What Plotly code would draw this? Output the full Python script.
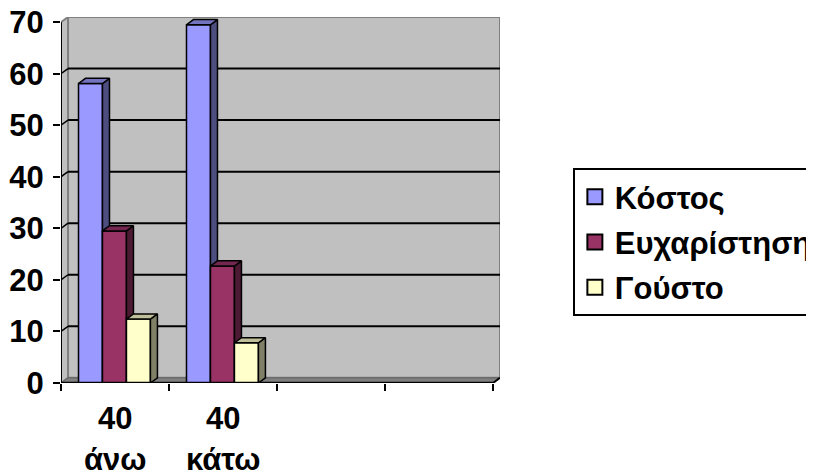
import plotly.graph_objects as go

# data
categories = ['40<br>άνω', '40<br>κάτω', '', '']
series_names = ['Κόστος', 'Ευχαρίστηση', 'Γούστο']
kostos = [58.1, 69.5]
eucharistisi = [29.5, 22.7]
gousto = [12.4, 7.8]
y_ticks = [0, 10, 20, 30, 40, 50, 60, 70]

values = [kostos, eucharistisi, gousto]
front_cols = ['#9999FF', '#993366', '#FFFFCC']
side_cols = ['#4D4D80', '#4D1A33', '#808066']
top_cols = ['#7373BF', '#732650', '#BFBF99']

FONT = 'Liberation Sans, Arial, sans-serif'
FS = 31
dx, dy = 0.065, 1.0      # depth of the 3d box in data units
bw = 0.222                # bar width
offs = [-0.227, -0.005, 0.217]
ncat = len(categories)

fig = go.Figure()

# back wall, left wall, floor and gridlines
shapes = []
shapes.append(dict(type='rect', xref='x', yref='y', x0=-0.5 + dx, x1=ncat - 0.5 + dx,
                   y0=dy, y1=y_ticks[-1] + dy, fillcolor='#C0C0C0',
                   line=dict(color='#808080', width=2), layer='below'))
shapes.append(dict(type='path', xref='x', yref='y',
                   path=f'M -0.5,0 L -0.5,{y_ticks[-1]} L {-0.5+dx},{y_ticks[-1]+dy} L {-0.5+dx},{dy} Z',
                   fillcolor='#C0C0C0', line=dict(color='#808080', width=2), layer='below'))
shapes.append(dict(type='path', xref='x', yref='y',
                   path=f'M -0.5,0 L {ncat-0.5},0 L {ncat-0.5+dx},{dy} L {-0.5+dx},{dy} Z',
                   fillcolor='#808080', line=dict(color='#606060', width=1), layer='below'))
for v in y_ticks[1:-1]:
    shapes.append(dict(type='line', xref='x', yref='y', x0=-0.5 + dx, x1=ncat - 0.5 + dx,
                       y0=v + dy, y1=v + dy, line=dict(color='black', width=2), layer='below'))
    shapes.append(dict(type='line', xref='x', yref='y', x0=-0.5, x1=-0.5 + dx,
                       y0=v, y1=v + dy, line=dict(color='black', width=1.5), layer='below'))
# front axis lines
shapes.append(dict(type='line', xref='x', yref='y', x0=-0.5, x1=-0.5, y0=0, y1=y_ticks[-1],
                   line=dict(color='black', width=2)))
shapes.append(dict(type='line', xref='x', yref='y', x0=-0.5, x1=ncat - 0.5, y0=0, y1=0,
                   line=dict(color='black', width=2.5)))
shapes.append(dict(type='line', xref='x', yref='y', x0=ncat - 0.5, x1=ncat - 0.5 + dx, y0=0, y1=dy,
                   line=dict(color='black', width=2)))

# bars drawn as 3d boxes, series by series
for i, vals in enumerate(values):
    fx, fy, sx, sy, tx, ty = [], [], [], [], [], []
    for j, v in enumerate(vals):
        l = j + offs[i] - bw / 2
        r = l + bw
        fx += [l, r, r, l, l, None]
        fy += [0, 0, v, v, 0, None]
        sx += [r, r + dx, r + dx, r, r, None]
        sy += [0, dy, v + dy, v, 0, None]
        tx += [l, r, r + dx, l + dx, l, None]
        ty += [v, v, v + dy, v + dy, v, None]
    for xs, ys, col in [(fx, fy, front_cols[i]), (sx, sy, side_cols[i]), (tx, ty, top_cols[i])]:
        fig.add_trace(go.Scatter(x=xs, y=ys, mode='lines', fill='toself', fillcolor=col,
                                 line=dict(color='black', width=1.5), showlegend=False,
                                 hoverinfo='skip'))

# legend entries
for i, name in enumerate(series_names):
    fig.add_trace(go.Scatter(x=[None], y=[None], mode='markers', name=f'<b>{name}</b>',
                             legendgroup=name,
                             marker=dict(symbol='square', size=15, color=front_cols[i],
                                         line=dict(color='black', width=2))))

# category labels
annotations = []
for j, c in enumerate(categories):
    parts = c.split('<br>') if c else []
    for k, p in enumerate(parts):
        annotations.append(dict(x=j, y=[-0.098, -0.208][k], xref='x', yref='paper',
                                text=f'<b>{p}</b>', showarrow=False, xanchor='center', yanchor='middle',
                                font=dict(family=FONT, size=FS, color='black')))

# page body adds 8px, so margins are shifted up/left by 8px
fig.update_layout(
    template='none',
    width=814, height=476,
    margin=dict(l=53, r=322, t=9, b=101, autoexpand=False),
    plot_bgcolor='white', paper_bgcolor='white',
    shapes=shapes, annotations=annotations,
    xaxis=dict(range=[-0.5, ncat - 0.5 + dx], showgrid=False, zeroline=False, showline=False,
               automargin=False,
               tickvals=[j - 0.5 for j in range(ncat + 1)], ticktext=[''] * (ncat + 1),
               ticks='outside', ticklen=7, tickwidth=2, tickcolor='black'),
    yaxis=dict(range=[0, y_ticks[-1] + dy], showgrid=False, zeroline=False, showline=False,
               automargin=False, ticklabeloverflow='allow',
               tickvals=y_ticks, ticktext=[f'<b>{t}</b>' for t in y_ticks],
               ticks='outside', ticklen=7, tickwidth=2, tickcolor='black',
               ticklabelstandoff=3,
               tickfont=dict(family=FONT, size=FS, color='black')),
    legend=dict(x=1.166, y=0.5875, xanchor='left', yanchor='top',
                bordercolor='black', borderwidth=2, bgcolor='white',
                tracegroupgap=2,
                font=dict(family=FONT, size=FS, color='black')),
)

fig.write_html("out.html")
